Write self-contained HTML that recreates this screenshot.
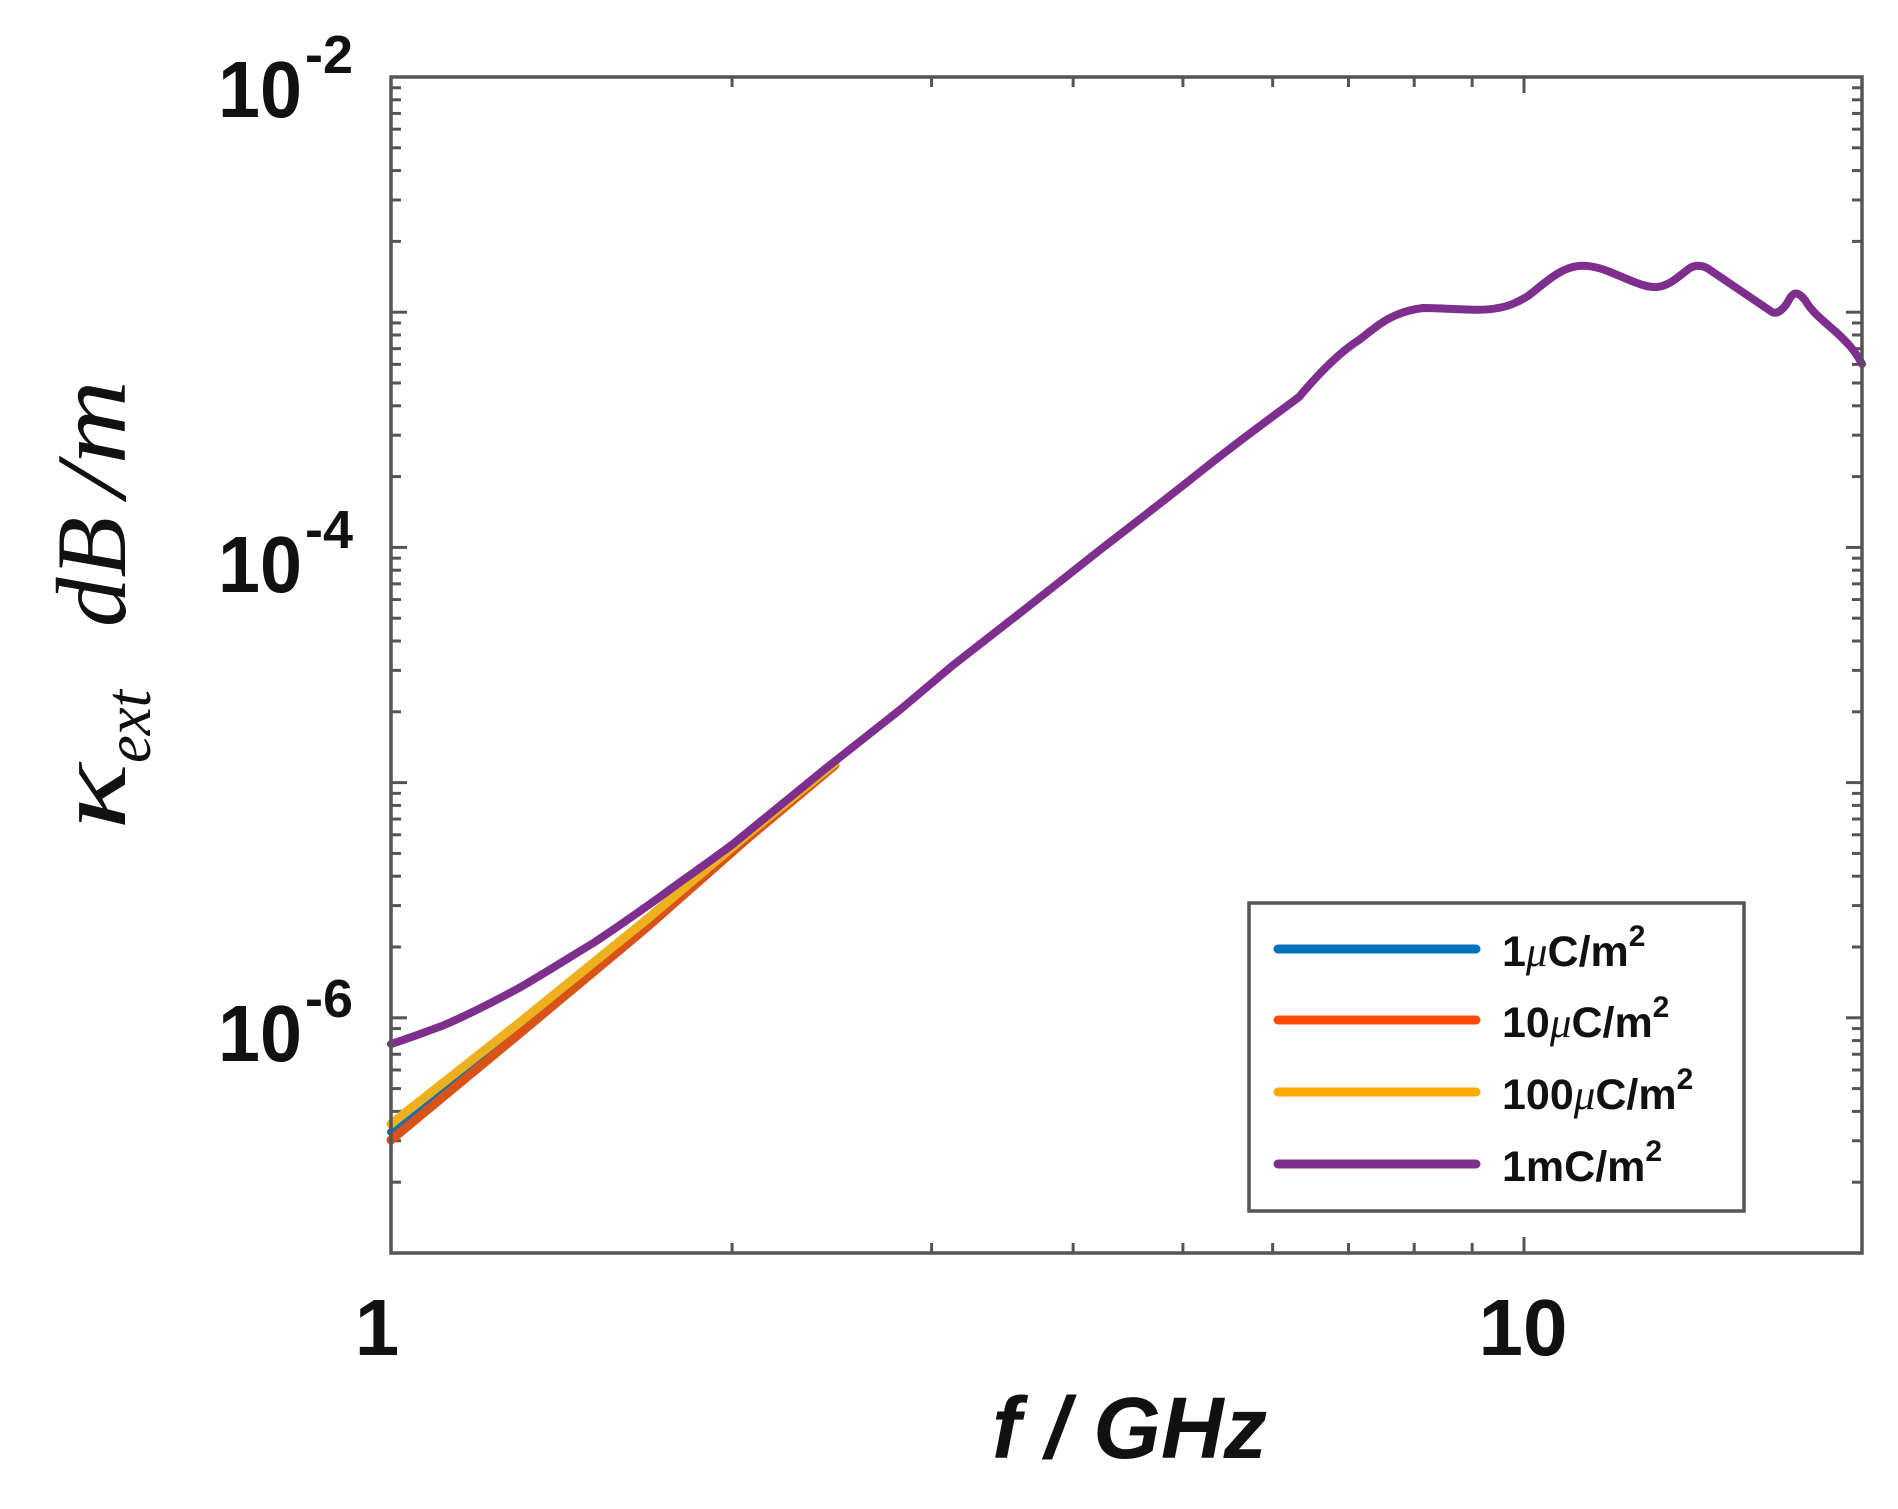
<!DOCTYPE html>
<html>
<head>
<meta charset="utf-8">
<style>
html,body{margin:0;padding:0;background:#fff;}
svg{display:block;}
</style>
</head>
<body>
<svg width="1898" height="1509" viewBox="0 0 1898 1509" xmlns="http://www.w3.org/2000/svg">
<rect width="1898" height="1509" fill="#fff"/>
<g id="ticks" stroke="#555" stroke-width="3"></g>
<!-- series -->
<g fill="none" stroke-linecap="round" stroke-linejoin="round" stroke-width="8">
<path stroke="#0072BD" d="M391,1132 L519,1028 L646,924 L748,837 L835,765"/>
<path stroke="#D95319" stroke-width="9" d="M391,1140 L519,1034 L646,928 L748,838 L835,765"/>
<path stroke="#EDB120" stroke-width="9" d="M391,1124 L519,1023 L646,920 L748,834 L835,763"/>
<path stroke="#7E2F8E" d="M391,1044 C410,1038 425,1032 442,1026 C470,1014 495,1001 519,988 C545,973 570,957 595,942 C620,925 648,906 672,888 C693,873 713,859 733,844 L825,769 L901,709 L952,666 L1029,606 L1105,546 C1140,519 1170,496 1200,472 C1240,440 1275,415 1299,397 C1320,372 1340,352 1359,340 C1375,328 1390,312 1423,308 C1450,308 1480,312 1498,308 C1510,306 1518,302 1528,296 C1545,283 1560,268 1578,266 C1590,265 1600,268 1610,272 C1630,280 1645,288 1657,287 C1670,286 1680,275 1690,268 C1697,264 1705,266 1710,270 L1772,312 C1778,315 1785,308 1790,298 C1795,290 1800,294 1805,300 C1812,312 1820,318 1836,332 C1848,343 1856,352 1862,364"/>
</g>
<!-- axes box -->
<rect x="391" y="77" width="1471" height="1176" fill="none" stroke="#555" stroke-width="3.5"/>
<!-- legend -->
<rect x="1249" y="903" width="495" height="308" fill="#fff" stroke="#555" stroke-width="3.5"/>
<g stroke-width="9" stroke-linecap="round">
<line x1="1278" y1="949" x2="1476" y2="949" stroke="#0072BD"/>
<line x1="1278" y1="1020" x2="1476" y2="1020" stroke="#FF4A08"/>
<line x1="1278" y1="1092" x2="1476" y2="1092" stroke="#FFAA00"/>
<line x1="1278" y1="1164" x2="1476" y2="1164" stroke="#7E2F8E"/>
</g>
<g font-family="'Liberation Sans',sans-serif" font-weight="bold" font-size="43" fill="#111">
<text x="1502" y="966">1<tspan font-family="'Liberation Serif',serif" font-style="italic" font-weight="normal">μ</tspan>C/m<tspan font-size="30" dy="-20">2</tspan></text>
<text x="1502" y="1037">10<tspan font-family="'Liberation Serif',serif" font-style="italic" font-weight="normal">μ</tspan>C/m<tspan font-size="30" dy="-20">2</tspan></text>
<text x="1502" y="1109">100<tspan font-family="'Liberation Serif',serif" font-style="italic" font-weight="normal">μ</tspan>C/m<tspan font-size="30" dy="-20">2</tspan></text>
<text x="1502" y="1181">1mC/m<tspan font-size="30" dy="-20">2</tspan></text>
</g>
<!-- tick labels -->
<g font-family="'Liberation Sans',sans-serif" font-weight="bold" fill="#111">
<text x="377" y="1355" font-size="80" text-anchor="middle">1</text>
<text x="1523" y="1355" font-size="80" text-anchor="middle">10</text>
<text x="218" y="117" font-size="80" textLength="84" lengthAdjust="spacingAndGlyphs">10</text>
<text x="305" y="73" font-size="54">-2</text>
<text x="218" y="592" font-size="80" textLength="84" lengthAdjust="spacingAndGlyphs">10</text>
<text x="305" y="548" font-size="54">-4</text>
<text x="218" y="1061" font-size="80" textLength="84" lengthAdjust="spacingAndGlyphs">10</text>
<text x="305" y="1017" font-size="54">-6</text>
<text x="992" y="1458" font-size="87" font-style="italic" textLength="275" lengthAdjust="spacingAndGlyphs">f / GHz</text>
</g>
<!-- y label -->
<g font-family="'Liberation Serif',serif" font-style="italic" fill="#111" transform="translate(125,830) rotate(-90)">
<text x="0" y="0" font-size="100" textLength="67" lengthAdjust="spacingAndGlyphs">κ</text>
<text x="67" y="25" font-size="66" textLength="73" lengthAdjust="spacingAndGlyphs">ext</text>
<text x="203" y="0" font-size="100" textLength="110" lengthAdjust="spacingAndGlyphs">dB</text>
<text x="333" y="0" font-size="100" textLength="117" lengthAdjust="spacingAndGlyphs">/m</text>
</g>
<script>
(function(){
var g=document.getElementById('ticks'),ns='http://www.w3.org/2000/svg';
function ln(x1,y1,x2,y2){var l=document.createElementNS(ns,'line');l.setAttribute('x1',x1);l.setAttribute('y1',y1);l.setAttribute('x2',x2);l.setAttribute('y2',y2);g.appendChild(l);}
var X0=391,X1=1862,Y0=77,Y1=1253,DX=1133,DY=235.2;
for(var d=0;d<2;d++){for(var k=1;k<10;k++){var v=Math.pow(10,d)*k;if(v>20)break;var x=X0+Math.log10(v)*DX;if(x>X1+1)break;var L=(k==1)?16:10;ln(x,Y1,x,Y1-L);ln(x,Y0,x,Y0+L);}}
for(var e=-7;e<-2;e++){for(var k=1;k<10;k++){var lv=e+Math.log10(k);var y=Y0+(-2-lv)*DY;var L=(k==1)?16:10;ln(X0,y,X0+L,y);ln(X1,y,X1-L,y);}}
})();
</script>
</svg>
</body>
</html>
